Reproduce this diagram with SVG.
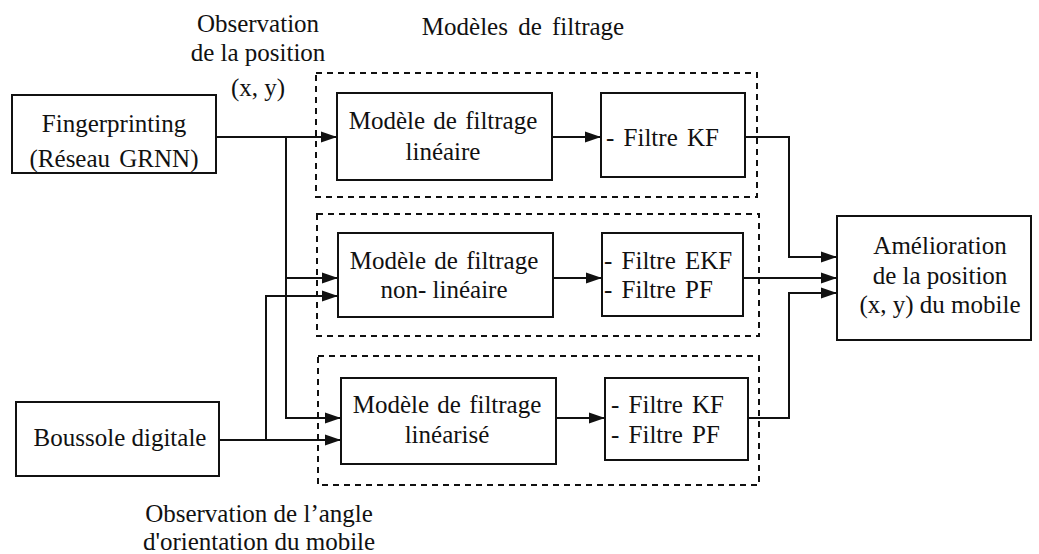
<svg xmlns="http://www.w3.org/2000/svg" width="1039" height="554" viewBox="0 0 1039 554">
<style>
text{font-family:"Liberation Serif","Times New Roman",serif;font-size:25px;fill:#111}
.m{text-anchor:middle}
.box{fill:#fff;stroke:#111;stroke-width:2}
.grp{fill:none;stroke:#111;stroke-width:2;stroke-dasharray:6,5}
.c{fill:none;stroke:#111;stroke-width:2}
</style>
<defs>
<marker id="ah" markerWidth="18" markerHeight="12" refX="16" refY="6" orient="auto" markerUnits="userSpaceOnUse">
<path d="M0,0.5 L16,6 L0,11.5 Z" fill="#111"/>
</marker>
</defs>
<g id="labels">
<text class="m" x="258" y="32">Observation</text>
<text class="m" x="258" y="61">de la position</text>
<text class="m" x="258" y="96">(x, y)</text>
<text class="m" x="523" y="35" word-spacing="4">Modèles de filtrage</text>
<text class="m" x="259" y="522">Observation de l’angle</text>
<text class="m" x="259" y="550">d'orientation du mobile</text>
</g>
<g id="groups">
<rect id="grp1" class="grp" x="316" y="73" width="441" height="124"/>
<rect id="grp2" class="grp" x="317" y="214" width="442" height="122"/>
<rect id="grp3" class="grp" x="318" y="356" width="441" height="129"/>
</g>
<g id="fingerprinting">
<rect class="box" x="12" y="95" width="204" height="78"/>
<text class="m" x="114" y="132">Fingerprinting</text>
<text class="m" x="114" y="167" word-spacing="3">(Réseau GRNN)</text>
</g>
<g id="boussole">
<rect class="box" x="16" y="402" width="203" height="74"/>
<text class="m" x="120" y="446">Boussole digitale</text>
</g>
<g id="modele1">
<rect class="box" x="337" y="93" width="215" height="87"/>
<text class="m" x="443" y="129" word-spacing="2">Modèle de filtrage</text>
<text class="m" x="443" y="160">linéaire</text>
</g>
<g id="filtre1">
<rect class="box" x="601" y="93" width="144" height="84"/>
<text x="606" y="146" word-spacing="3">- Filtre KF</text>
</g>
<g id="modele2">
<rect class="box" x="338" y="233" width="215" height="84"/>
<text class="m" x="444" y="269" word-spacing="2">Modèle de filtrage</text>
<text class="m" x="444" y="298">non- linéaire</text>
</g>
<g id="filtre2">
<rect class="box" x="602" y="233" width="141" height="83"/>
<text x="604" y="269" word-spacing="3">- Filtre EKF</text>
<text x="604" y="298" word-spacing="3">- Filtre PF</text>
</g>
<g id="modele3">
<rect class="box" x="341" y="378" width="215" height="86"/>
<text class="m" x="447" y="413" word-spacing="2">Modèle de filtrage</text>
<text class="m" x="447" y="443">linéarisé</text>
</g>
<g id="filtre3">
<rect class="box" x="605" y="378" width="143" height="82"/>
<text x="611" y="413" word-spacing="3">- Filtre KF</text>
<text x="611" y="443" word-spacing="3">- Filtre PF</text>
</g>
<g id="amelioration">
<rect class="box" x="837" y="216" width="194" height="124"/>
<text class="m" x="940" y="254">Amélioration</text>
<text class="m" x="940" y="284">de la position</text>
<text class="m" x="940" y="313">(x, y) du mobile</text>
</g>
<g id="connectors">
<path class="c" d="M216,137 H337" marker-end="url(#ah)"/>
<path class="c" d="M286,137 V418 H341" marker-end="url(#ah)"/>
<path class="c" d="M286,278 H338" marker-end="url(#ah)"/>
<path class="c" d="M219,440 H341" marker-end="url(#ah)"/>
<path class="c" d="M266,440 V296 H338" marker-end="url(#ah)"/>
<path class="c" d="M552,137 H601" marker-end="url(#ah)"/>
<path class="c" d="M553,278 H602" marker-end="url(#ah)"/>
<path class="c" d="M556,418 H605" marker-end="url(#ah)"/>
<path class="c" d="M745,137 H789 V257 H837" marker-end="url(#ah)"/>
<path class="c" d="M743,278 H837" marker-end="url(#ah)"/>
<path class="c" d="M748,418 H789 V293 H837" marker-end="url(#ah)"/>
</g>
</svg>
